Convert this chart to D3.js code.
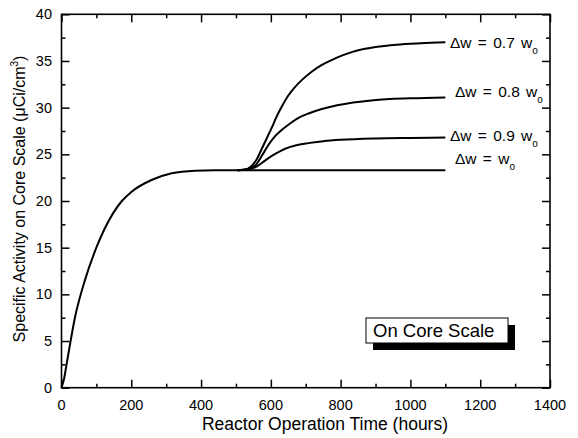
<!DOCTYPE html>
<html>
<head>
<meta charset="utf-8">
<script src="https://cdn.jsdelivr.net/npm/d3@7"></script>
<style>
  html, body { margin: 0; padding: 0; background: #fff; }
  svg { display: block; font-family: "Liberation Sans", Arial, Helvetica, sans-serif; }
</style>
</head>
<body>
<svg id="chart" width="578" height="438"></svg>
<script>
// Shared build-up of activity before the flow change (hours, µCi/cm³)
const baseTime  = [0, 7, 15, 39, 67, 101, 148, 173, 201, 258, 316, 383, 440, 478, 520, 700, 900, 1100];
const baseValue = [0, 0.9, 2.6, 7.6, 11.5, 15.1, 18.7, 20.0, 21.0, 22.25, 22.97, 23.25, 23.3, 23.3, 23.3, 23.3, 23.3, 23.3];

// Branches after the flow change
const w07Time  = [505, 525, 545, 560, 574, 588, 602, 616, 631, 650, 669, 690, 717, 745, 774, 805, 836, 870, 900, 960, 1030, 1100];
const w07Value = [23.3, 23.35, 23.75, 24.5, 25.6, 26.7, 27.8, 29.0, 30.1, 31.3, 32.2, 33.0, 33.85, 34.55, 35.1, 35.6, 36.0, 36.3, 36.5, 36.75, 36.9, 37.0];

const w08Time  = [505, 530, 555, 575, 593, 611, 631, 655, 679, 710, 746, 790, 836, 894, 1000, 1100];
const w08Value = [23.3, 23.4, 23.8, 24.9, 26.0, 26.9, 27.6, 28.3, 28.9, 29.4, 29.85, 30.25, 30.55, 30.8, 31.0, 31.1];

const w09Time  = [505, 530, 555, 575, 593, 615, 641, 670, 707, 750, 800, 900, 1000, 1100];
const w09Value = [23.3, 23.38, 23.6, 24.1, 24.6, 25.1, 25.6, 25.95, 26.2, 26.4, 26.55, 26.7, 26.76, 26.8];

// Curve labels: main part and subscript
const labelMain = ["\u0394w = 0.7 w", "\u0394w = 0.8 w", "\u0394w = 0.9 w", "\u0394w = w"];
const labelSub  = ["o", "o", "o", "o"];

// Axis ticks
const xMajorTicks = [0, 200, 400, 600, 800, 1000, 1200, 1400];
const xMinorTicks = [100, 300, 500, 700, 900, 1100, 1300];
const yMajorTicks = [0, 5, 10, 15, 20, 25, 30, 35, 40];
const yMinorTicks = [2.5, 7.5, 12.5, 17.5, 22.5, 27.5, 32.5, 37.5];

const xTitle = "Reactor Operation Time (hours)";
const yTitleMain = "Specific Activity on Core Scale (\u03BCCi/cm";
const yTitleSup = "3";
const boxText = "On Core Scale";

const svg = d3.select("#chart");
const plotLeft = 61.5, plotRight = 550, plotTop = 14.3, plotBottom = 387.7;

const x = d3.scaleLinear().domain([0, 1400]).range([plotLeft, plotRight]);
const y = d3.scaleLinear().domain([0, 40]).range([plotBottom, plotTop]);

const line = d3.line()
  .x(d => x(d[0]))
  .y(d => y(d[1]))
  .curve(d3.curveMonotoneX);

const zip = (a, b) => a.map((t, i) => [t, b[i]]);

const series = [
  zip(w07Time, w07Value),
  zip(w08Time, w08Value),
  zip(w09Time, w09Value),
  zip(baseTime, baseValue)
];

// Curves
const curves = svg.append("g").attr("fill", "none").attr("stroke", "#000").attr("stroke-width", 2);
series.forEach(s => curves.append("path").attr("d", line(s)));

// Frame axes with inward ticks on all sides
const major = 8, minor = 4;
function addAxis(axisFn, scale, ticks, len, transform) {
  const g = svg.append("g")
    .attr("transform", transform)
    .call(axisFn(scale).tickValues(ticks).tickSize(-len).tickFormat(""));
  g.select(".domain").remove();
  g.selectAll(".tick line").attr("stroke", "#000").attr("stroke-width", 1.5);
  return g;
}
addAxis(d3.axisBottom, x, xMajorTicks, major, `translate(0,${plotBottom})`);
addAxis(d3.axisBottom, x, xMinorTicks, minor, `translate(0,${plotBottom})`);
addAxis(d3.axisTop, x, xMajorTicks, major, `translate(0,${plotTop})`);
addAxis(d3.axisTop, x, xMinorTicks, minor, `translate(0,${plotTop})`);
addAxis(d3.axisLeft, y, yMajorTicks, major, `translate(${plotLeft},0)`);
addAxis(d3.axisLeft, y, yMinorTicks, minor, `translate(${plotLeft},0)`);
addAxis(d3.axisRight, y, yMajorTicks, major, `translate(${plotRight},0)`);
addAxis(d3.axisRight, y, yMinorTicks, minor, `translate(${plotRight},0)`);

svg.append("rect")
  .attr("x", plotLeft).attr("y", plotTop)
  .attr("width", plotRight - plotLeft).attr("height", plotBottom - plotTop)
  .attr("fill", "none").attr("stroke", "#000").attr("stroke-width", 1.6);

// Tick labels
svg.append("g").selectAll("text").data(xMajorTicks).join("text")
  .attr("x", d => x(d)).attr("y", 410)
  .attr("text-anchor", "middle").attr("font-size", 14.5)
  .text(d => d);

svg.append("g").selectAll("text").data(yMajorTicks).join("text")
  .attr("x", 52).attr("y", d => y(d) + 5)
  .attr("text-anchor", "end").attr("font-size", 14.5)
  .text(d => d);

// Axis titles
svg.append("text")
  .attr("x", 325).attr("y", 430)
  .attr("text-anchor", "middle").attr("font-size", 17.5)
  .text(xTitle);

const yt = svg.append("text")
  .attr("transform", "translate(25,199) rotate(-90)")
  .attr("text-anchor", "middle").attr("font-size", 16);
yt.append("tspan").text(yTitleMain);
yt.append("tspan").attr("font-size", 10).attr("dy", -7).text(yTitleSup);
yt.append("tspan").attr("dy", 7).text(")");

// Curve labels
const labelX = [450, 455, 450, 455];
const labelDy = [6, 0, 3, -6];
series.forEach((s, i) => {
  const last = s[s.length - 1];
  const t = svg.append("text")
    .attr("x", labelX[i])
    .attr("y", y(last[1]) + labelDy[i])
    .attr("font-size", 15.5)
    .style("word-spacing", "2px");
  t.append("tspan").text(labelMain[i]);
  t.append("tspan").attr("font-size", 10).attr("dy", 6).text(labelSub[i]);
});

// Annotation box with drop shadow
const box = { x: 366, y: 318, w: 142, h: 25, off: 7 };
svg.append("rect")
  .attr("x", box.x + box.off).attr("y", box.y + box.off)
  .attr("width", box.w).attr("height", box.h)
  .attr("fill", "#000");
svg.append("rect")
  .attr("x", box.x).attr("y", box.y)
  .attr("width", box.w).attr("height", box.h)
  .attr("fill", "#fff").attr("stroke", "#000").attr("stroke-width", 1);
svg.append("text")
  .attr("x", box.x + 7).attr("y", box.y + 19)
  .attr("font-size", 18.5)
  .text(boxText);
</script>
</body>
</html>
